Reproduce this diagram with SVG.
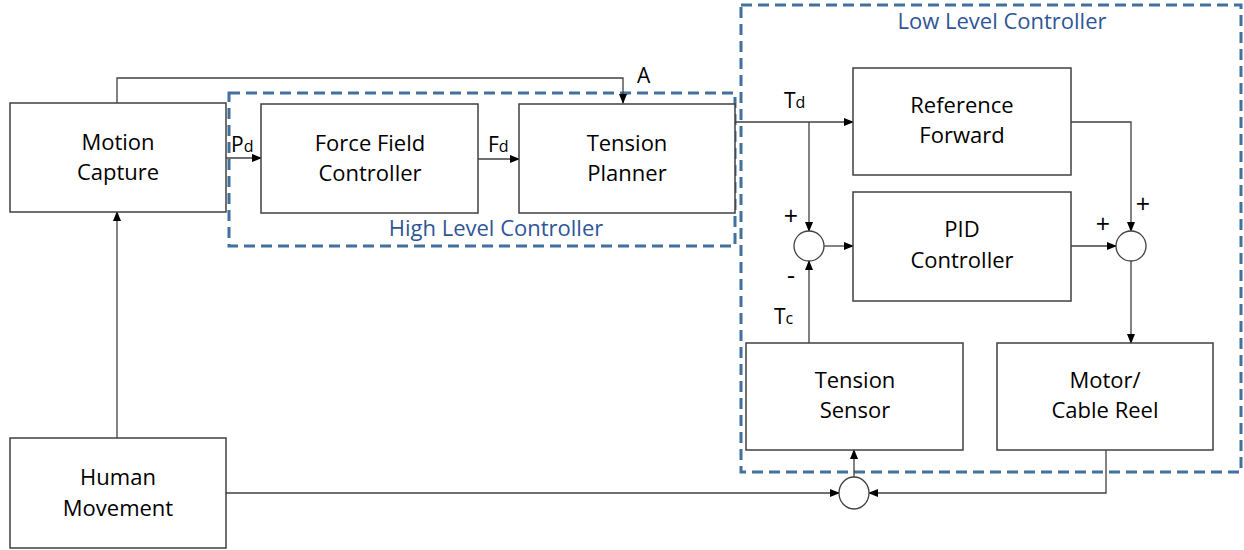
<svg xmlns="http://www.w3.org/2000/svg" width="1244" height="550" viewBox="0 0 1244 550">
<defs>
<marker id="ah" markerWidth="10" markerHeight="8" refX="9" refY="4" orient="auto" markerUnits="userSpaceOnUse">
<path d="M0,0 L10,4 L0,8 Z" fill="#000"/>
</marker>
<style>
.box{fill:#fff;stroke:#404040;stroke-width:1.5}
.t{font-family:"Open Sans","Noto Sans",sans-serif;font-size:22px;fill:#000;text-anchor:middle}
.lbl{font-family:"Open Sans","Noto Sans",sans-serif;font-size:21px;fill:#000}
.pm{font-family:"Open Sans","Noto Sans",sans-serif;font-size:25px;fill:#000;text-anchor:middle}
.sub{font-size:16px}
.grp{fill:none;stroke:#41719C;stroke-width:3;stroke-dasharray:11 6}
.gt{font-family:"Open Sans","Noto Sans",sans-serif;font-size:22px;fill:#2F5597;text-anchor:middle}
.ca{fill:none;stroke:#404040;stroke-width:1.3;marker-end:url(#ah)}
.sum{fill:#fff;stroke:#404040;stroke-width:1.3}
</style>
</defs>
<g id="groups">
<rect class="grp" x="229" y="93" width="506" height="153"/>
<text class="gt" x="496" y="236">High Level Controller</text>
<rect class="grp" x="741" y="5" width="500" height="467"/>
<text class="gt" x="1002" y="29">Low Level Controller</text>
</g>
<g id="connectors">
<polyline class="ca" points="117,103 117,78 623,78 623,103"/>
<line class="ca" x1="226" y1="158" x2="261" y2="158"/>
<line class="ca" x1="478" y1="159" x2="519" y2="159"/>
<line class="ca" x1="735" y1="122" x2="853" y2="122"/>
<line class="ca" x1="809" y1="122" x2="809" y2="231"/>
<line class="ca" x1="824" y1="246" x2="853" y2="246"/>
<polyline class="ca" points="1071,122 1131,122 1131,231"/>
<line class="ca" x1="1071" y1="246" x2="1116" y2="246"/>
<line class="ca" x1="1131" y1="261" x2="1131" y2="343"/>
<line class="ca" x1="809" y1="343" x2="809" y2="261"/>
<line class="ca" x1="854" y1="477" x2="854" y2="450"/>
<polyline class="ca" points="1106,450 1106,493 869,493"/>
<line class="ca" x1="226" y1="493" x2="839" y2="493"/>
<line class="ca" x1="117" y1="438" x2="117" y2="212"/>
<text class="lbl" x="637" y="83">A</text>
<text class="lbl" x="231" y="152">P<tspan class="sub">d</tspan></text>
<text class="lbl" x="488" y="152">F<tspan class="sub">d</tspan></text>
<text class="lbl" x="784" y="108">T<tspan class="sub">d</tspan></text>
<text class="lbl" x="774" y="324">T<tspan class="sub">c</tspan></text>
<text class="pm" x="791" y="225">+</text>
<text class="pm" x="791" y="284">-</text>
<text class="pm" x="1143" y="213">+</text>
<text class="pm" x="1103" y="233">+</text>
</g>
<g id="motion-capture">
<rect class="box" x="10" y="103" width="216" height="109"/>
<text class="t" x="118" y="150">Motion</text>
<text class="t" x="118" y="180">Capture</text>
</g>
<g id="force-field-controller">
<rect class="box" x="261" y="104" width="217" height="109"/>
<text class="t" x="370" y="151">Force Field</text>
<text class="t" x="370" y="181">Controller</text>
</g>
<g id="tension-planner">
<rect class="box" x="519" y="104" width="216" height="109"/>
<text class="t" x="627" y="151">Tension</text>
<text class="t" x="627" y="181">Planner</text>
</g>
<g id="reference-forward">
<rect class="box" x="853" y="68" width="218" height="107"/>
<text class="t" x="962" y="113">Reference</text>
<text class="t" x="962" y="143">Forward</text>
</g>
<g id="pid-controller">
<rect class="box" x="853" y="192" width="218" height="109"/>
<text class="t" x="962" y="237">PID</text>
<text class="t" x="962" y="268">Controller</text>
</g>
<g id="sum1"><circle class="sum" cx="809" cy="246" r="15"/></g>
<g id="sum2"><circle class="sum" cx="1131" cy="246" r="15"/></g>
<g id="sum3"><ellipse class="sum" cx="854" cy="493" rx="15" ry="16"/></g>
<g id="tension-sensor">
<rect class="box" x="746" y="343" width="217" height="107"/>
<text class="t" x="855" y="388">Tension</text>
<text class="t" x="855" y="418">Sensor</text>
</g>
<g id="motor-cable-reel">
<rect class="box" x="997" y="343" width="216" height="107"/>
<text class="t" x="1105" y="388">Motor/</text>
<text class="t" x="1105" y="418">Cable Reel</text>
</g>
<g id="human-movement">
<rect class="box" x="10" y="438" width="216" height="110"/>
<text class="t" x="118" y="485">Human</text>
<text class="t" x="118" y="516">Movement</text>
</g>
</svg>
